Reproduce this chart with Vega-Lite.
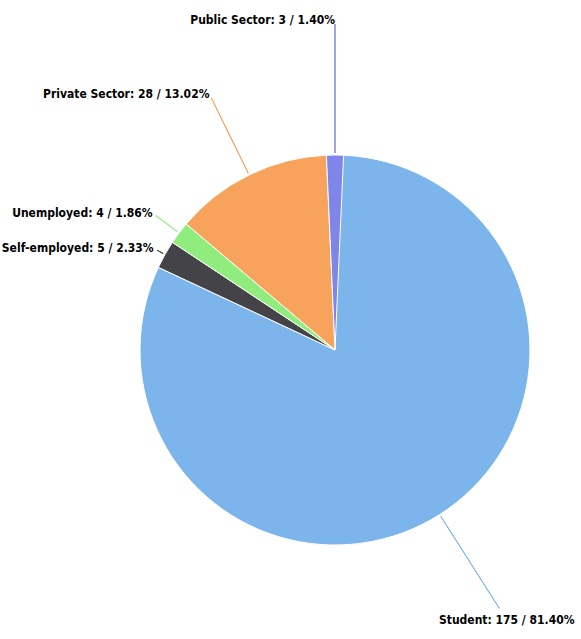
{
  "$schema": "https://vega.github.io/schema/vega-lite/v6.json",
  "autosize": "none",
  "width": 490,
  "height": 580,
  "padding": {"left": 90, "top": 60, "right": 0, "bottom": 0},
  "background": "#ffffff",
  "view": {"stroke": null},
  "config": {"text": {"font": "DejaVu Sans Condensed", "fontWeight": "bold", "fontSize": 12, "fill": "#000000"}},
  "data": {"values": [
    {"category": "Student", "count": 175, "percent": 81.40, "label": "Student: 175 / 81.40%"},
    {"category": "Self-employed", "count": 5, "percent": 2.33, "label": "Self-employed: 5 / 2.33%"},
    {"category": "Unemployed", "count": 4, "percent": 1.86, "label": "Unemployed: 4 / 1.86%"},
    {"category": "Private Sector", "count": 28, "percent": 13.02, "label": "Private Sector: 28 / 13.02%"},
    {"category": "Public Sector", "count": 3, "percent": 1.40, "label": "Public Sector: 3 / 1.40%"}
  ]},
  "transform": [
    {"window": [{"op": "row_number", "as": "rank"}]},
    {"stack": "count", "groupby": [], "sort": [{"field": "rank", "order": "ascending"}], "as": ["t0", "t1"]}
  ],
  "layer": [
    {
      "mark": {"type": "arc", "radius": 195, "stroke": "#ffffff", "strokeWidth": 1},
      "encoding": {
        "theta": {"field": "t0", "type": "quantitative", "stack": null},
        "theta2": {"field": "t1"},
        "color": {"field": "category", "type": "nominal", "legend": null,
          "scale": {"domain": ["Student", "Self-employed", "Unemployed", "Private Sector", "Public Sector"],
                    "range": ["#7cb5ec", "#434348", "#90ed7d", "#f7a35c", "#8085e9"]}}
      }
    },
    {
      "transform": [
        {"fold": ["t0", "t1"], "as": ["edge", "angle"]},
        {"aggregate": [{"op": "mean", "field": "angle", "as": "mid"}], "groupby": ["category", "label"]},
        {"filter": "datum.category === 'Student'"}
      ],
      "layer": [
        {"mark": {"type": "arc", "radius": 306, "radius2": 197, "fill": "transparent", "stroke": "#7cb5ec", "strokeWidth": 1},
         "encoding": {"theta": {"field": "mid", "type": "quantitative", "stack": null}, "theta2": {"field": "mid"}}},
        {"mark": {"type": "text", "radius": 320, "align": "center", "baseline": "middle"},
         "encoding": {"theta": {"field": "mid", "type": "quantitative", "stack": null}, "text": {"field": "label"}}}
      ]
    },
    {
      "transform": [
        {"fold": ["t0", "t1"], "as": ["edge", "angle"]},
        {"aggregate": [{"op": "mean", "field": "angle", "as": "mid"}], "groupby": ["category", "label"]},
        {"filter": "datum.category === 'Self-employed'"}
      ],
      "layer": [
        {"mark": {"type": "arc", "radius": 204, "radius2": 197, "fill": "transparent", "stroke": "#434348", "strokeWidth": 1},
         "encoding": {"theta": {"field": "mid", "type": "quantitative", "stack": null}, "theta2": {"field": "mid"}}},
        {"mark": {"type": "text", "radius": 208, "align": "right", "baseline": "middle"},
         "encoding": {"theta": {"field": "mid", "type": "quantitative", "stack": null}, "text": {"field": "label"}}}
      ]
    },
    {
      "transform": [
        {"fold": ["t0", "t1"], "as": ["edge", "angle"]},
        {"aggregate": [{"op": "mean", "field": "angle", "as": "mid"}], "groupby": ["category", "label"]},
        {"filter": "datum.category === 'Unemployed'"}
      ],
      "layer": [
        {"mark": {"type": "arc", "radius": 224, "radius2": 197, "fill": "transparent", "stroke": "#90ed7d", "strokeWidth": 1},
         "encoding": {"theta": {"field": "mid", "type": "quantitative", "stack": null}, "theta2": {"field": "mid"}}},
        {"mark": {"type": "text", "radius": 228, "align": "right", "baseline": "middle"},
         "encoding": {"theta": {"field": "mid", "type": "quantitative", "stack": null}, "text": {"field": "label"}}}
      ]
    },
    {
      "transform": [
        {"fold": ["t0", "t1"], "as": ["edge", "angle"]},
        {"aggregate": [{"op": "mean", "field": "angle", "as": "mid"}], "groupby": ["category", "label"]},
        {"filter": "datum.category === 'Private Sector'"}
      ],
      "layer": [
        {"mark": {"type": "arc", "radius": 281, "radius2": 197, "fill": "transparent", "stroke": "#f7a35c", "strokeWidth": 1},
         "encoding": {"theta": {"field": "mid", "type": "quantitative", "stack": null}, "theta2": {"field": "mid"}}},
        {"mark": {"type": "text", "radius": 285, "align": "right", "baseline": "middle"},
         "encoding": {"theta": {"field": "mid", "type": "quantitative", "stack": null}, "text": {"field": "label"}}}
      ]
    },
    {
      "transform": [
        {"fold": ["t0", "t1"], "as": ["edge", "angle"]},
        {"aggregate": [{"op": "mean", "field": "angle", "as": "mid"}], "groupby": ["category", "label"]},
        {"filter": "datum.category === 'Public Sector'"}
      ],
      "layer": [
        {"mark": {"type": "arc", "radius": 326, "radius2": 197, "fill": "transparent", "stroke": "#8085e9", "strokeWidth": 1},
         "encoding": {"theta": {"field": "mid", "type": "quantitative", "stack": null}, "theta2": {"field": "mid"}}},
        {"mark": {"type": "text", "radius": 330, "align": "right", "baseline": "middle"},
         "encoding": {"theta": {"field": "mid", "type": "quantitative", "stack": null}, "text": {"field": "label"}}}
      ]
    }
  ]
}
